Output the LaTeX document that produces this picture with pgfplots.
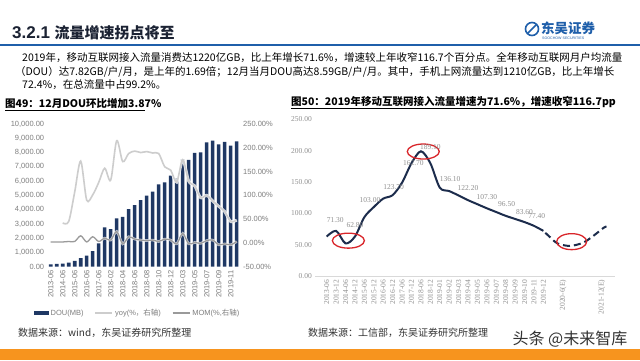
\documentclass[border=0pt]{standalone}
\usepackage{fontspec}
\usepackage{pgfplots}
\pgfplotsset{compat=1.18}
\setmainfont{Liberation Sans}
\newfontfamily\cjk{Noto Sans CJK SC}
\newfontfamily\sernum{Liberation Serif}
\definecolor{navy}{HTML}{1F3864}
\definecolor{linenavy}{HTML}{1C2C4C}
\definecolor{yoygray}{HTML}{CDCDCD}
\definecolor{momgray}{HTML}{9A9A9A}
\definecolor{tickgray}{HTML}{7F7F7F}
\definecolor{lblgray}{HTML}{909090}
\definecolor{ored}{HTML}{D9252A}
\definecolor{orangeband}{HTML}{F7941E}
\definecolor{logoblue}{HTML}{1F5FAA}
\definecolor{titlecol}{HTML}{1B2233}
\begin{document}
\begin{tikzpicture}[x=1pt,y=1pt]
\fill[white] (0,0) rectangle (640,360);
\fill[orangeband] (0,0) rectangle (640,11);
% title
\node[anchor=base west, inner sep=0, text=titlecol] at (12,322) {\fontsize{17}{17}\selectfont\bfseries 3.2.1 {\cjk\fontsize{15}{15}\selectfont 流量增速拐点将至}};
\draw[logoblue, line width=1.8pt] (0,315) -- (640,315);
% logo
\draw[logoblue, line width=1.6pt] (532,331) circle (6.5);
\draw[logoblue, line width=1.6pt] (527.5,326.5) -- (536.5,335.5);
\node[anchor=west, inner sep=0, text=logoblue] at (541,332) {\cjk\bfseries\fontsize{13.5}{14}\selectfont 东吴证券};
\node[anchor=west, inner sep=0, text=logoblue] at (542,322) {\fontsize{3.6}{4}\selectfont SOOCHOW SECURITIES};
% body text
\node[anchor=west, inner sep=0] at (22,302) {\cjk\fontsize{10.5}{12}\selectfont 2019年，移动互联网接入流量消费达1220亿GB，比上年增长71.6\%，增速较上年收窄116.7个百分点。全年移动互联网月户均流量};
\node[anchor=west, inner sep=0] at (15,288) {\cjk\fontsize{10.5}{12}\selectfont （DOU）达7.82GB/户/月，是上年的1.69倍；12月当月DOU高达8.59GB/户/月。其中，手机上网流量达到1210亿GB，比上年增长};
\node[anchor=west, inner sep=0] at (22,275) {\cjk\fontsize{10.5}{12}\selectfont 72.4\%，在总流量中占99.2\%。};
% figure titles
\node[anchor=base west, inner sep=0] at (5,253) {\cjk\bfseries\fontsize{10.5}{12}\selectfont 图49：12月DOU环比增加3.87\%};
\draw[line width=0.6pt] (5,250) -- (145,250);
\node[anchor=base west, inner sep=0] at (291,255) {\cjk\bfseries\fontsize{10.5}{12}\selectfont 图50：2019年移动互联网接入流量增速为71.6\%，增速收窄116.7pp};
\draw[line width=0.6pt] (291,252) -- (600,252);
% sources
\node[anchor=west, inner sep=0, text=black!80] at (18,27) {\cjk\fontsize{10}{12}\selectfont 数据来源：wind，东吴证券研究所整理};
\node[anchor=west, inner sep=0, text=black!80] at (308,27) {\cjk\fontsize{10}{12}\selectfont 数据来源：工信部，东吴证券研究所整理};
\node[anchor=center, inner sep=0, text=black!80] at (570,21) {\cjk\fontsize{16}{16}\selectfont 头条 @未来智库};

% ---------- left chart: bars ----------
\begin{axis}[
  at={(47.7pt,93.3pt)}, anchor=south west, scale only axis,
  width=192pt, height=142.7pt,
  xmin=-0.5, xmax=31.5, ymin=0, ymax=10000,
  axis line style={draw=none}, major tick length=0pt,
  xtick={0,2,...,30},
  xticklabels={2013-06,2014-06,2015-06,2016-06,2017-06,2018-02,2018-04,2018-06,2018-08,2018-10,2018-12,2019-03,2019-05,2019-07,2019-09,2019-11},
  xticklabel style={rotate=90, anchor=east, font=\fontsize{7.5}{8}\selectfont, text=tickgray},
  ytick={0,1000,...,10000},
  scaled y ticks=false,
  yticklabel style={font=\fontsize{7.5}{8}\selectfont, text=tickgray, /pgf/number format/.cd, fixed, fixed zerofill, precision=2, 1000 sep={,}},
  /pgf/number format/assume math mode=true,
  legend style={at={(-0.09,-0.325)}, anchor=west, draw=none, fill=none, legend columns=3,
    font=\fontsize{7.5}{8}\selectfont, text=tickgray,
    /tikz/every even column/.append style={column sep=9pt}},
  legend cell align=left,
]
\addplot[ybar, bar width=3.6pt, fill=navy, draw=none,
  legend image code/.code={\fill[navy] (0pt,-2.2pt) rectangle (15pt,2.2pt);}]
coordinates {(0,170)(1,190)(2,220)(3,280)(4,400)(5,600)(6,770)(7,1100)(8,1640)(9,2760)(10,2640)(11,3390)(12,3500)(13,4040)(14,4320)(15,4670)(16,4980)(17,5260)(18,5770)(19,5910)(20,6380)(21,6190)(22,7530)(23,7480)(24,7970)(25,8010)(26,8710)(27,8830)(28,8580)(29,8740)(30,8480)(31,8790)};
\addlegendentry{DOU(MB)}
\addlegendimage{yoygray, line width=1.5pt}
\addlegendentry{yoy(\%{\cjk ，右轴})}
\addlegendimage{momgray, line width=1.3pt}
\addlegendentry{MOM(\%,{\cjk 右轴})}
\end{axis}

% ---------- left chart: lines on right axis ----------
\begin{axis}[
  at={(47.7pt,93.3pt)}, anchor=south west, scale only axis,
  width=192pt, height=142.7pt,
  xmin=-0.5, xmax=31.5, ymin=-50, ymax=250,
  axis x line=none, axis y line*=right,
  y axis line style={draw=none}, major tick length=0pt,
  ytick={-50,0,...,250},
  yticklabel={\pgfmathprintnumber[fixed, fixed zerofill, precision=2]{\tick}\%},
  yticklabel style={font=\fontsize{7.5}{8}\selectfont, text=tickgray},
  /pgf/number format/assume math mode=true,
]
\addplot[smooth, white, line width=3pt, opacity=0.8] coordinates {(2,42)(3,45)(4,107)(5,172)(6,90)(7,101)(8,127)(9,157)(10,132)(11,215)(12,171)(13,188)(14,193)(15,190)(16,192)(17,189)(18,188)(19,160)(20,153)(21,128)(22,175)(23,130)(24,120)(25,95)(26,100)(27,88)(28,77)(29,66)(30,45)(31,48)};
\addplot[smooth, yoygray, line width=1.6pt] coordinates {(2,42)(3,45)(4,107)(5,172)(6,90)(7,101)(8,127)(9,157)(10,132)(11,215)(12,171)(13,188)(14,193)(15,190)(16,192)(17,189)(18,188)(19,160)(20,153)(21,128)(22,175)(23,130)(24,120)(25,95)(26,100)(27,88)(28,77)(29,66)(30,45)(31,48)};
\addplot[smooth, white, line width=2.6pt, opacity=0.7] coordinates {(0,2)(1,2)(2,2)(3,3)(4,3)(5,15)(6,2)(7,13)(8,3)(9,10)(10,6)(11,24)(12,-2)(13,13)(14,8)(15,6)(16,5)(17,6)(18,3)(19,8)(20,6)(21,-2)(22,20)(23,-2)(24,1)(25,-1)(26,5)(27,6)(28,-4)(29,-2)(30,-4)(31,3)};
\addplot[smooth, momgray, line width=1.3pt] coordinates {(0,2)(1,2)(2,2)(3,3)(4,3)(5,15)(6,2)(7,13)(8,3)(9,10)(10,6)(11,24)(12,-2)(13,13)(14,8)(15,6)(16,5)(17,6)(18,3)(19,8)(20,6)(21,-2)(22,20)(23,-2)(24,1)(25,-1)(26,5)(27,6)(28,-4)(29,-2)(30,-4)(31,3)};
\end{axis}

% ---------- right chart ----------
\begin{axis}[
  at={(315.4pt,84pt)}, anchor=south west, scale only axis,
  width=299.6pt, height=156.7pt,
  xmin=-1.2, xmax=30.6, ymin=0, ymax=250,
  axis lines=left, axis line style={-},
  y axis line style={draw=none}, x axis line style={draw=black!15, line width=0.8pt},
  major tick length=0pt, clip=false,
  xtick={0,1,...,23,25.1,29.2},
  xticklabels={2013-06,2013-12,2014-06,2014-12,2015-06,2015-12,2016-06,2016-12,2017-06,2017-12,2018-06,2018-12,2019-01,2019-02,2019-03,2019-04,2019-05,2019-06,2019-07,2019-08,2019-09,2019-10,2019-11,2019-12,2020-6(E),2021-12(E)},
  xticklabel style={rotate=90, anchor=east, font=\sernum\fontsize{7.5}{8}\selectfont, text=lblgray},
  ytick={0,50,...,250},
  yticklabel style={font=\sernum\fontsize{7.5}{8}\selectfont, text=lblgray, /pgf/number format/.cd, fixed, fixed zerofill, precision=2},
  /pgf/number format/assume math mode=true,
]
\addplot[smooth, linenavy, line width=2pt] coordinates {(0,63)(1,72)(2,52)(3,63)(4,94)(5,110)(6,123.5)(7,129)(8,149)(9,180)(10,199)(11,180)(12,141)(13,135.5)(14,128.5)(15,121)(16,114.5)(17,108)(18,102)(19,96)(20,91)(21,86)(22,80)(23,72)};
\addplot[smooth, linenavy, line width=2pt, dash pattern=on 7pt off 4pt] coordinates {(23.2,69)(23.7,62)(24.5,52)(25.8,48)(27.2,53)(28.3,64)(29.4,77)(29.7,79)};
\draw[ored, line width=1.3pt] (axis cs:2.3,56.4) ellipse [x radius=16pt, y radius=7.5pt];
\draw[ored, line width=1.3pt] (axis cs:10.25,198.6) ellipse [x radius=16pt, y radius=7.5pt];
\draw[ored, line width=1.3pt] (axis cs:26,54.8) ellipse [x radius=15pt, y radius=8pt];
\begin{scope}[every node/.style={font=\sernum\fontsize{7.5}{8}\selectfont, text=lblgray, inner sep=0}]
\node at (axis cs:0.9,89.4) {71.30};
\node at (axis cs:3.0,80.8) {62.80};
\node at (axis cs:4.6,121.4) {103.00};
\node at (axis cs:7.1,141.6) {123.70};
\node at (axis cs:9.2,179.9) {162.70};
\node at (axis cs:11.0,206.2) {189.10};
\node at (axis cs:13.1,154.2) {136.10};
\node at (axis cs:15.0,139.8) {122.20};
\node at (axis cs:17.0,125.4) {107.30};
\node at (axis cs:19.1,114.2) {96.50};
\node at (axis cs:21.0,102.5) {83.60};
\node at (axis cs:22.3,95.6) {77.40};
\end{scope}
\end{axis}
\pgfresetboundingbox
\useasboundingbox (0,0) rectangle (640,360);
\end{tikzpicture}
\end{document}
